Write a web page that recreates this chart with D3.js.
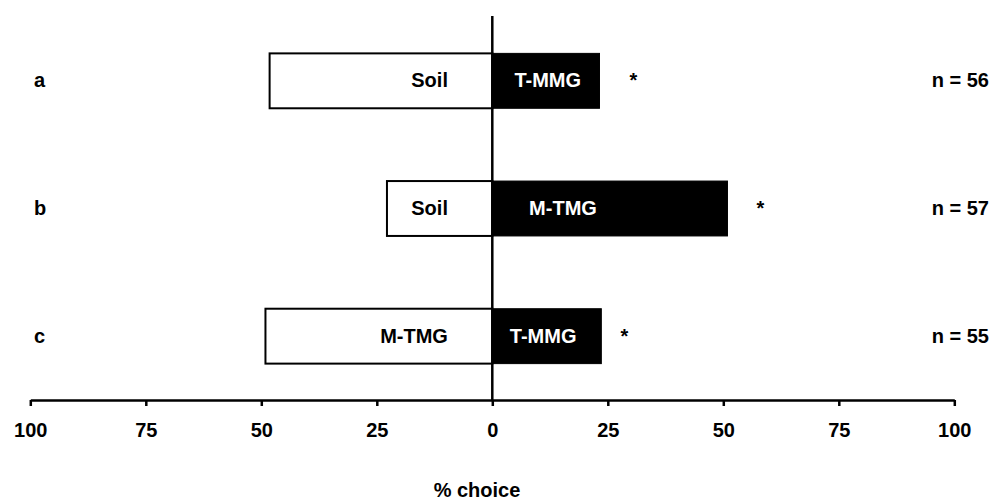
<!DOCTYPE html>
<html>
<head>
<meta charset="utf-8">
<script src="https://cdn.jsdelivr.net/npm/d3@7"></script>
<style>
  html, body { margin: 0; padding: 0; background: #fff; }
  svg { display: block; }
  text { font-family: "Liberation Sans", Arial, sans-serif; font-weight: bold; }
</style>
</head>
<body>
<div id="chart"></div>
<script>
// Two-choice test: percentage of animals choosing each side, per experiment
const rows = ["a", "b", "c"];
const leftLabels = ["Soil", "Soil", "M-TMG"];
const rightLabels = ["T-MMG", "M-TMG", "T-MMG"];
const leftValues = [48.2, 22.8, 49.1];
const rightValues = [23.2, 50.9, 23.6];
const sampleSizes = [56, 57, 55];
const significant = ["*", "*", "*"];
const tickValues = [-100, -75, -50, -25, 0, 25, 50, 75, 100];
const axisTitle = "% choice";

const width = 992, height = 500;
const fontSize = 20;

const svg = d3.select("#chart").append("svg")
  .attr("width", width)
  .attr("height", height);

const x = d3.scaleLinear().domain([-100, 100]).range([30.3, 954.3]);
const y = d3.scaleBand().domain(rows).range([17, 400])
  .paddingInner(0.57).paddingOuter(0.285);

const data = rows.map((r, i) => ({
  row: r,
  left: leftValues[i],
  right: rightValues[i],
  leftLabel: leftLabels[i],
  rightLabel: rightLabels[i],
  n: sampleSizes[i],
  sig: significant[i]
}));

// placement of the in-bar labels (percentage units) and star gaps (px)
const rightLabelCentre = [12, 15.3, 11];
const leftLabelEnd = -9.6;
const starGap = [34, 33, 23];

const g = svg.append("g");

// left (white) bars
g.selectAll("rect.left").data(data).join("rect")
  .attr("class", "left")
  .attr("x", d => x(-d.left))
  .attr("y", d => y(d.row))
  .attr("width", d => x(0) - x(-d.left))
  .attr("height", y.bandwidth())
  .attr("fill", "#fff")
  .attr("stroke", "#000")
  .attr("stroke-width", 2);

// right (black) bars
g.selectAll("rect.right").data(data).join("rect")
  .attr("class", "right")
  .attr("x", x(0))
  .attr("y", d => y(d.row))
  .attr("width", d => x(d.right) - x(0))
  .attr("height", y.bandwidth())
  .attr("fill", "#000")
  .attr("stroke", "#000")
  .attr("stroke-width", 1);

// zero line
g.append("line")
  .attr("x1", x(0)).attr("x2", x(0))
  .attr("y1", 16).attr("y2", 400)
  .attr("stroke", "#000")
  .attr("stroke-width", 2.5);

const mid = d => y(d.row) + y.bandwidth() / 2 + 6.5;

// labels inside bars
g.selectAll("text.llab").data(data).join("text")
  .attr("class", "llab")
  .attr("x", x(leftLabelEnd))
  .attr("y", mid)
  .attr("text-anchor", "end")
  .attr("font-size", fontSize)
  .attr("fill", "#000")
  .text(d => d.leftLabel);

g.selectAll("text.rlab").data(data).join("text")
  .attr("class", "rlab")
  .attr("x", (d, i) => x(rightLabelCentre[i]))
  .attr("y", mid)
  .attr("text-anchor", "middle")
  .attr("font-size", fontSize)
  .attr("fill", "#fff")
  .text(d => d.rightLabel);

// significance stars
g.selectAll("text.sig").data(data).join("text")
  .attr("class", "sig")
  .attr("x", (d, i) => x(d.right) + starGap[i])
  .attr("y", mid)
  .attr("text-anchor", "middle")
  .attr("font-size", fontSize)
  .text(d => d.sig);

// row letters
g.selectAll("text.row").data(data).join("text")
  .attr("class", "row")
  .attr("x", 34)
  .attr("y", mid)
  .attr("font-size", fontSize)
  .text(d => d.row);

// sample sizes
g.selectAll("text.n").data(data).join("text")
  .attr("class", "n")
  .attr("x", 989)
  .attr("y", mid)
  .attr("text-anchor", "end")
  .attr("font-size", fontSize)
  .text(d => "n = " + d.n);

// x axis
const axis = d3.axisBottom(x)
  .tickValues(tickValues)
  .tickFormat(d => Math.abs(d))
  .tickSize(6)
  .tickSizeOuter(0)
  .tickPadding(16.6);

const ax = svg.append("g")
  .attr("transform", "translate(0,400)")
  .call(axis);
ax.select(".domain").attr("stroke", "#000").attr("stroke-width", 2.5);
ax.selectAll(".tick line").attr("stroke", "#000").attr("stroke-width", 2.5);
ax.selectAll(".tick text")
  .attr("font-size", fontSize)
  .attr("font-family", "Liberation Sans, Arial, sans-serif")
  .attr("font-weight", "bold")
  .attr("fill", "#000");

// axis title
svg.append("text")
  .attr("x", 477)
  .attr("y", 497)
  .attr("text-anchor", "middle")
  .attr("font-size", fontSize)
  .text(axisTitle);
</script>
</body>
</html>
